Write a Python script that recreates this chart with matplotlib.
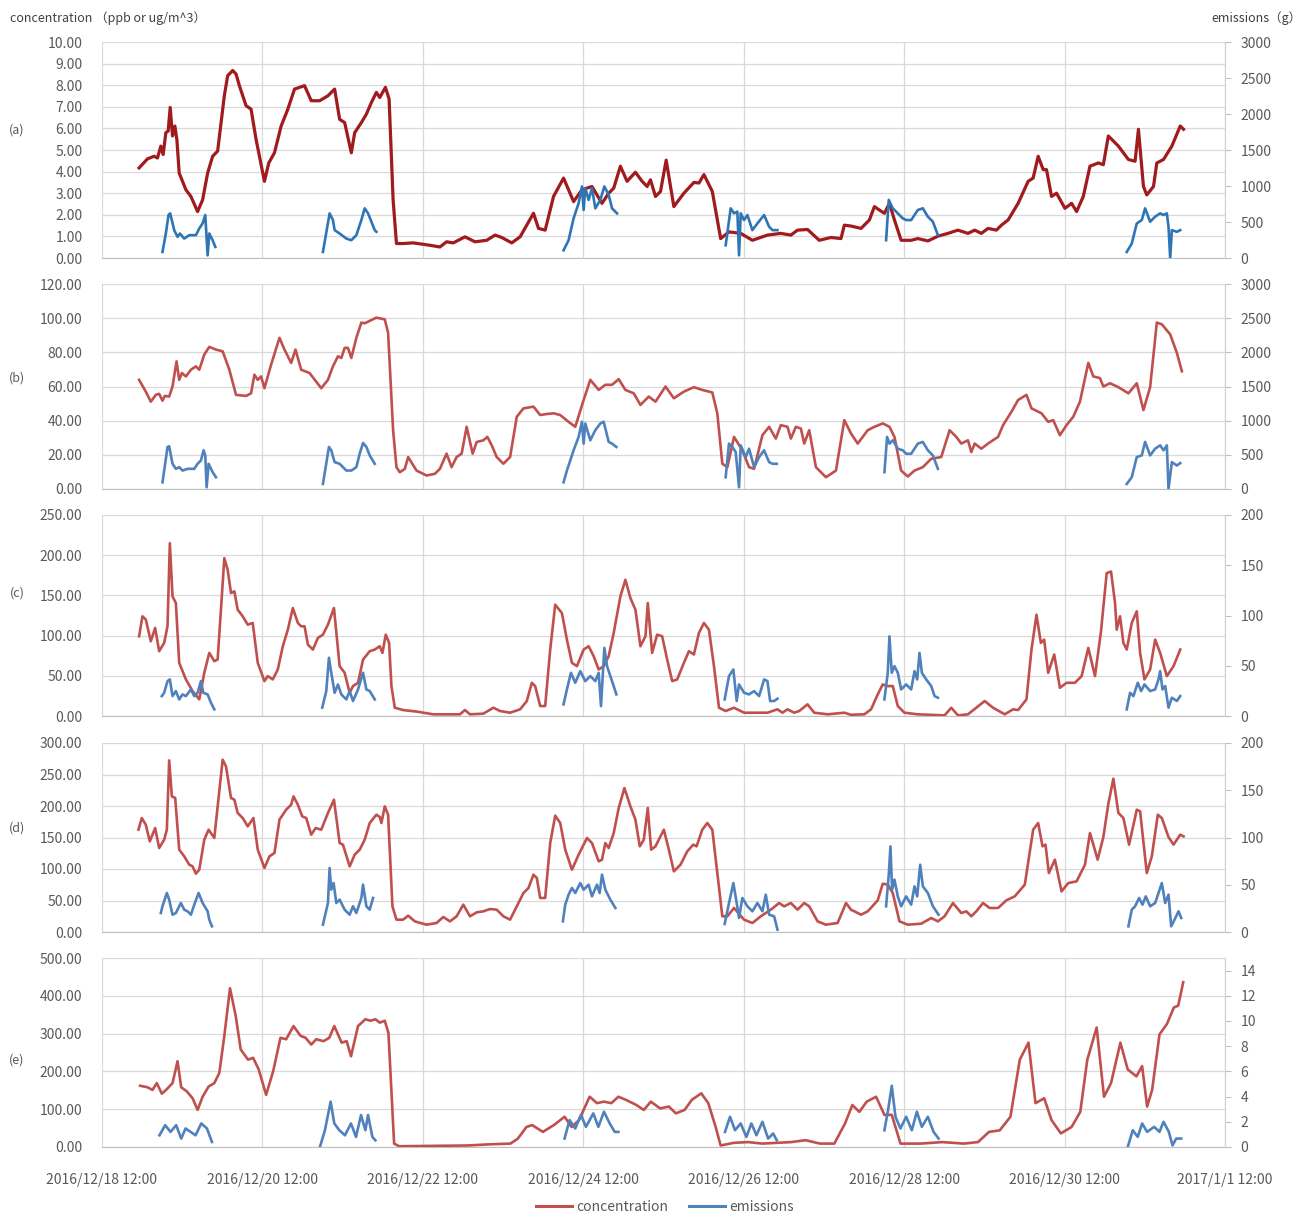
import numpy as np
import pandas as pd
import matplotlib
matplotlib.use('Agg')
import matplotlib.pyplot as plt
import matplotlib.lines as mlines
from matplotlib.ticker import FixedLocator, FuncFormatter

plt.rcParams['font.family'] = ['Noto Sans CJK SC', 'DejaVu Sans']

# time axis: hours after 2016/12/18 12:00, one gridline every two days
START = pd.Timestamp('2016-12-18 12:00')
X_END = 336
X_TICKS = list(range(0, X_END + 1, 48))

# ---------------- (a) ----------------
a_conc_h = [11.1, 13.6, 15.6, 16.6, 17.6, 18.3, 19.1, 19.8, 20.4, 21.1, 21.8, 22.4, 23.1, 25.1, 26.6, 28.6,
            30.1, 31.6, 33.1, 34.6, 36.6, 37.6, 39.1, 40.1, 41.1, 43.1, 44.6, 46.1, 48.6, 49.9, 51.6, 53.6,
            55.6, 57.6, 59.1, 60.6, 62.6, 65.1, 67.6, 69.6, 71.1, 72.6, 74.6, 75.6, 77.6, 79.1, 80.6, 82.1,
            83.1, 84.8, 85.9, 87.1, 88.1, 90.1, 93.1, 98.1, 101.1, 103.1, 105.1, 108.6, 111.6, 115.1, 117.6,
            119.6, 122.6, 125.1, 129.1, 130.6, 132.6, 135.1, 138.1, 141.1, 143.6, 146.6, 149.6, 151.6, 153.1,
            155.1, 157.1, 159.6, 161.6, 163.1, 164.1, 165.6, 167.1, 168.8, 171.1, 174.1, 177.1, 178.6, 180.1,
            182.6, 185.1, 187.6, 191.1, 194.6, 199.1, 203.1, 206.1, 208.1, 211.1, 214.6, 218.1, 221.1, 222.1,
            224.1, 227.1, 229.6, 231.1, 232.6, 234.1, 235.6, 237.1, 239.1, 242.1, 244.1, 247.1, 250.1, 253.1,
            256.1, 259.1, 261.1, 263.1, 265.1, 267.6, 269.1, 271.1, 274.1, 277.1, 278.6, 280.1, 281.6, 282.6,
            284.1, 285.6, 288.1, 290.1, 291.6, 293.6, 295.6, 298.1, 299.6, 301.1, 304.1, 307.1, 309.1, 310.1,
            311.6, 312.6, 314.6, 315.6, 317.6, 320.1, 322.6, 323.6]
a_conc_v = [4.17, 4.59, 4.71, 4.63, 5.18, 4.79, 5.8, 5.88, 6.97, 5.65, 6.11, 5.49, 3.93, 3.16, 2.85, 2.15,
            2.69, 3.93, 4.71, 4.95, 7.51, 8.44, 8.68, 8.52, 7.98, 7.05, 6.89, 5.49, 3.55, 4.40, 4.87, 6.11,
            6.89, 7.82, 7.90, 7.98, 7.28, 7.28, 7.51, 7.82, 6.42, 6.27, 4.87, 5.8, 6.27, 6.66, 7.2, 7.67,
            7.43, 7.90, 7.36, 2.69, 0.67, 0.67, 0.7, 0.59, 0.51, 0.75, 0.7, 0.98, 0.75, 0.82, 1.06,
            0.95, 0.7, 0.98, 2.07, 1.37, 1.29, 2.85, 3.7, 2.61, 3.16, 3.31, 2.53, 3.0, 3.23,
            4.25, 3.55, 3.97, 3.55, 3.31, 3.62, 2.85, 3.08, 4.53, 2.38, 3.0, 3.5, 3.47, 3.86,
            3.08, 0.9, 1.21, 1.14, 0.82, 1.06, 1.14, 1.06, 1.29, 1.32, 0.82, 0.95, 0.9, 1.52,
            1.48, 1.37, 1.76, 2.38, 2.22, 2.07, 2.53, 1.76, 0.82, 0.82, 0.9, 0.79, 1.01, 1.14,
            1.29, 1.14, 1.29, 1.14, 1.37, 1.29, 1.52, 1.76, 2.53, 3.55, 3.7, 4.71, 4.09, 4.09,
            2.85, 3.0, 2.3, 2.53, 2.15, 2.85, 4.25, 4.40, 4.32, 5.65, 5.18, 4.56, 4.48, 5.96,
            3.31, 2.92, 3.31, 4.40, 4.56, 5.18, 6.11, 5.96]
# None splits the separate emission episodes
a_emis_h = [18.1, 19.1, 19.9, 20.4, 21.6, 22.6, 23.3, 24.6, 26.1, 28.1, 29.1, 30.1, 30.9, 31.6, 32.1, 33.1, 33.9, None,
            66.1, 68.1, 69.1, 69.6, 71.1, 73.1, 74.6, 76.1, 77.6, 78.6, 79.6, 80.6, 81.6, 82.1, None,
            138.1, 139.6, 141.1, 142.6, 143.6, 144.1, 144.6, 145.6, 146.6, 147.6, 149.1, 150.3, 151.6, 152.6, 154.1, None,
            186.6, 188.1, 189.1, 190.1, 190.6, 191.1, 192.1, 193.1, 194.6, 196.1, 198.1, 199.6, 200.6, 202.1, None,
            234.6, 235.4, 236.6, 238.1, 239.6, 240.6, 242.1, 244.1, 245.6, 247.1, 248.6, 250.1, None,
            306.6, 308.1, 309.6, 311.1, 312.1, 313.6, 315.1, 316.6, 317.6, 318.6, 319.1, 319.6, 320.1, 321.6, 322.6]
a_emis_v = [84, 340, 597, 620, 387, 294, 340, 270, 317, 317, 410, 480, 597, 37, 340, 247, 154, None,
            84, 620, 527, 387, 340, 270, 247, 317, 527, 690, 620, 504, 387, 364, None,
            107, 247, 550, 760, 994, 667, 970, 807, 970, 690, 807, 994, 877, 690, 620, None,
            177, 690, 620, 644, 37, 620, 527, 597, 387, 480, 597, 434, 387, 387, None,
            247, 807, 690, 620, 550, 527, 527, 667, 690, 574, 504, 317, None,
            84, 200, 480, 527, 690, 504, 574, 620, 597, 620, 434, 0, 387, 364, 387]

# ---------------- (b) ----------------
b_conc_h = [11.1, 13.1, 14.6, 16.1, 17.1, 18.1, 18.8, 20.1, 21.1, 22.3, 23.1, 23.9, 25.1, 26.6, 28.1, 29.1,
            30.6, 32.1, 34.1, 36.1, 38.1, 40.1, 43.1, 44.6, 45.6, 46.6, 47.6, 48.6, 50.6, 53.1, 54.6, 56.6,
            57.9, 59.6, 62.1, 65.6, 67.6, 69.1, 70.6, 71.6, 72.6, 73.6, 74.6, 76.1, 77.6, 78.6, 80.1, 82.1,
            84.6, 85.6, 87.1, 88.1, 89.1, 90.6, 91.6, 94.1, 97.1, 99.6, 101.1, 103.1, 104.6, 106.1, 107.6,
            109.1, 110.9, 112.1, 114.1, 115.3, 116.6, 118.1, 120.1, 122.1, 124.1, 126.1, 129.1, 131.1, 133.1,
            135.1, 137.1, 139.6, 141.6, 144.1, 146.1, 148.6, 150.6, 152.6, 154.6, 156.6, 159.1, 161.1, 163.6,
            165.6, 168.6, 171.1, 174.1, 177.1, 179.6, 182.6, 184.1, 185.6, 187.1, 189.1, 191.6, 193.6, 195.1,
            197.6, 199.6, 201.6, 203.1, 205.1, 206.1, 207.6, 209.1, 210.1, 211.6, 213.6, 216.6, 219.6, 222.1,
            224.1, 226.1, 229.1, 231.1, 233.6, 235.6, 237.1, 239.1, 241.1, 243.1, 245.6, 248.1, 251.1, 253.6,
            255.6, 257.1, 259.1, 260.1, 261.1, 263.1, 265.1, 268.1, 269.6, 272.1, 274.1, 276.6, 278.1, 281.1,
            283.1, 284.6, 286.6, 288.6, 290.6, 292.6, 295.1, 296.6, 298.6, 299.6, 301.6, 304.1, 307.1, 309.6,
            311.6, 313.6, 315.6, 317.1, 319.6, 321.6, 323.1]
b_conc_v = [63.9, 57, 51.1, 55.1, 55.7, 51.7, 54.5, 54.1, 60, 74.7, 63.9, 67.9, 65.9, 69.8, 71.8, 69.8,
            78.7, 83.2, 81.6, 80.6, 69.8, 55.1, 54.5, 56, 66.9, 63.9, 65.9, 59, 72.8, 88.5, 81.6, 73.8,
            81.6, 69.8, 67.9, 59, 63.9, 71.8, 77.7, 76.7, 82.6, 82.6, 76.7, 88.5, 97.4, 97, 98.4, 100.3,
            99.3, 91.5, 34.4, 12.8, 9.8, 11.8, 18.7, 10.8, 7.9, 8.9, 11.8, 20.7, 12.8, 18.7, 20.7,
            36.4, 20.7, 27.5, 28.5, 30.5, 25.6, 18.7, 14.8, 18.7, 42.3, 47.2, 48.2, 43.3, 43.9,
            44.3, 43.3, 39.3, 36.4, 52.1, 63.9, 58, 61, 61, 64.3, 58, 56, 49.2, 54.1,
            51.1, 60, 53.1, 57, 59.6, 58, 56.5, 44.3, 14.8, 12.8, 30.5, 22.6, 12.8, 11.8,
            31.5, 36.4, 29.5, 37.4, 36.4, 29.5, 36.4, 35.4, 26.6, 34.4, 12.8, 6.9, 10.8, 40.3,
            32.5, 26.6, 34.4, 36.4, 38.4, 36.4, 30.5, 10.8, 7.3, 10.8, 12.8, 17.7, 18.7, 34.4,
            30.5, 26.6, 28.5, 21.6, 26.6, 23.6, 26.6, 30.5, 37.4, 45.2, 52.1, 55.1, 47.2, 44.3,
            39.3, 40.3, 31.5, 37.4, 42.3, 51.1, 73.8, 65.9, 64.9, 60, 61.9, 59.6, 56, 61.9,
            46.2, 59.6, 97.4, 96.4, 90.5, 79.7, 68.9]
b_emis_h = [18.1, 18.9, 19.6, 20.1, 21.1, 22.1, 23.1, 24.1, 25.6, 27.6, 28.6, 29.6, 30.4, 30.9, 31.3, 31.9, 33.1, 34.1, None,
            66.1, 67.9, 68.6, 69.6, 71.1, 73.1, 74.6, 76.1, 77.1, 78.1, 79.1, 80.1, 81.6, None,
            138.1, 139.1, 141.1, 142.6, 143.6, 144.1, 144.6, 146.1, 147.6, 149.1, 150.1, 151.6, 152.6, 153.9, None,
            186.6, 187.6, 188.6, 189.6, 190.6, 191.1, 192.6, 193.6, 195.1, 196.6, 198.1, 199.6, 200.6, 201.9, None,
            234.1, 234.9, 235.6, 236.6, 238.1, 239.6, 240.6, 242.1, 244.1, 245.6, 247.1, 248.6, 250.1, None,
            306.6, 308.1, 309.6, 311.1, 312.1, 313.6, 315.1, 316.6, 317.6, 318.6, 319.1, 320.1, 321.6, 322.6]
b_emis_v = [98, 369, 615, 625, 369, 295, 320, 270, 295, 295, 369, 418, 566, 492, 25, 369, 246, 172, None,
            74, 615, 566, 393, 369, 270, 270, 320, 516, 674, 615, 492, 369, None,
            98, 270, 566, 762, 984, 664, 959, 713, 861, 959, 984, 689, 664, 615, None,
            172, 664, 615, 541, 25, 639, 467, 590, 320, 467, 566, 393, 369, 369, None,
            246, 762, 664, 713, 590, 566, 516, 516, 664, 689, 566, 492, 295, None,
            74, 172, 467, 492, 689, 492, 590, 639, 566, 639, 0, 393, 344, 379]

# ---------------- (c) ----------------
c_conc_h = [11.1, 12.1, 13.1, 14.6, 15.9, 17.1, 18.6, 19.6, 20.3, 21.1, 22.1, 23.1, 25.1, 27.1, 29.1, 30.6,
            32.1, 33.6, 34.6, 36.6, 37.6, 38.6, 39.6, 40.6, 42.1, 43.6, 45.1, 46.6, 48.6, 49.6, 51.1, 52.6,
            54.1, 55.6, 57.1, 58.6, 59.6, 60.6, 61.6, 63.1, 64.6, 66.1, 67.6, 69.4, 71.1, 72.6, 74.1, 75.1,
            76.6, 78.1, 80.1, 81.6, 83.1, 83.9, 84.9, 85.9, 86.6, 87.6, 90.1, 94.1, 99.1, 107.1, 108.6, 110.1,
            114.1, 117.1, 119.1, 122.1, 125.1, 127.1, 128.6, 129.6, 131.1, 132.6, 134.1, 135.6, 137.6, 139.1,
            140.6, 142.1, 144.1, 145.6, 147.1, 148.6, 150.1, 151.6, 153.1, 155.1, 156.6, 158.1, 159.6, 161.1,
            162.6, 163.3, 164.6, 166.1, 167.6, 169.1, 170.6, 172.1, 174.1, 175.6, 177.1, 178.6, 180.1, 181.6,
            183.1, 184.6, 186.6, 189.1, 192.1, 199.1, 202.1, 203.6, 205.1, 207.1, 208.6, 211.1, 213.1, 217.1,
            222.1, 224.1, 228.1, 230.1, 232.1, 233.6, 235.1, 236.6, 238.1, 240.1, 244.1, 252.1, 254.1, 256.1,
            259.1, 261.6, 264.1, 266.6, 270.1, 272.6, 274.1, 276.6, 278.1, 279.6, 280.9, 281.9, 283.1, 284.9,
            286.6, 288.6, 291.1, 293.1, 295.1, 297.1, 298.9, 300.6, 301.9, 303.1, 303.6, 304.6, 305.6, 306.6,
            308.1, 309.6, 310.6, 311.9, 313.6, 315.1, 316.6, 318.6, 320.6, 322.6]
c_conc_v = [99.2, 124, 120, 93, 109.5, 80.6, 90.9, 111.6, 214.9, 148.8, 140.5, 66.1, 45.5, 31, 20.7, 53.7,
            78.5, 68.2, 70.2, 196.3, 181.8, 152.9, 155, 132.2, 124, 113.6, 115.7, 66.1, 43.4, 49.6, 45.5, 57.9,
            86.8, 107.4, 134.3, 115.7, 111.6, 111.6, 88.8, 82.6, 97.1, 101.2, 113.6, 134.3, 62, 53.7, 28.9, 37.2,
            41.3, 70.2, 80.6, 82.6, 86.8, 78.5, 101.2, 90.9, 37.2, 10.3, 7.4, 5.5, 2.1, 2.1, 7.4, 2.1,
            2.9, 10.3, 6.2, 4.1, 8.3, 18.6, 41.3, 37.2, 12.4, 12.4, 82.6, 138.4, 128.1, 95,
            66.1, 62, 82.6, 86.8, 74.4, 57.9, 62, 74.4, 103.3, 148.8, 169.4, 146.7, 132.2, 86.8,
            99.2, 140.5, 78.5, 101.2, 99.2, 70.2, 43.4, 45.5, 66.1, 80.6, 76.5, 103.3, 115.7, 107.4,
            62, 10.3, 6.2, 10.3, 4.1, 4.1, 8.3, 4.1, 8.3, 4.1, 6.2, 14.5, 4.1, 2.1,
            4.1, 1.5, 2.1, 8.3, 26.9, 39.3, 37.2, 37.2, 12.4, 4.1, 2.1, 0.8, 10.3, 0.8,
            2.1, 10.3, 18.6, 10.3, 2.1, 8.3, 7.4, 20.7, 82.6, 126, 90.9, 95, 53.7, 76.5,
            35.1, 41.3, 41.3, 49.6, 84.7, 49.6, 105.4, 177.7, 179.7, 140.5, 107.4, 124, 90.9, 82.6,
            115.7, 130.2, 78.5, 45.5, 57.9, 95, 78.5, 49.6, 62, 82.6]
c_emis_h = [17.9, 18.6, 19.6, 20.3, 21.1, 22.1, 23.1, 24.1, 25.1, 26.6, 27.6, 28.6, 29.6, 30.3, 31.6, 32.6, 33.6, None,
            65.9, 67.1, 67.9, 68.6, 69.6, 70.6, 71.6, 73.1, 74.1, 75.1, 76.6, 78.1, 79.1, 80.1, 81.6, None,
            138.1, 139.1, 140.3, 141.6, 143.1, 144.6, 146.1, 147.6, 148.6, 149.3, 150.3, 151.1, 152.6, 153.9, None,
            186.3, 187.6, 188.9, 189.9, 190.6, 192.1, 193.6, 195.1, 196.6, 198.1, 199.1, 199.9, 201.1, 202.1, None,
            234.1, 235.1, 235.6, 236.3, 237.1, 238.1, 239.1, 240.6, 242.1, 243.1, 243.9, 244.6, 245.3, 246.6,
            248.1, 249.1, 250.1, None,
            306.6, 307.6, 308.6, 309.9, 310.9, 311.9, 313.6, 315.1, 316.1, 316.6, 317.3, 318.1, 319.1, 320.1,
            321.6, 322.6]
c_emis_v = [19.8, 23.1, 34.7, 36.4, 19.8, 24.8, 16.5, 21.5, 19.8, 26.4, 19.8, 23.1, 34.7, 23.1, 21.5, 13.2, 6.6, None,
            8.3, 24.8, 57.9, 43, 23.1, 31.4, 21.5, 16.5, 24.8, 14.9, 26.4, 43, 26.4, 24.8, 16.5, None,
            11.6, 26.4, 43, 33.1, 44.6, 34.7, 39.7, 34.7, 43, 9.9, 67.8, 49.6, 34.7, 21.5, None,
            16.5, 39.7, 46.3, 14.9, 31.4, 23.1, 21.5, 24.8, 19.8, 36.4, 34.7, 14.9, 14.9, 17.2, None,
            16.5, 43, 79.3, 43, 49.6, 43, 26.4, 31.4, 26.4, 44.6, 36.4, 62.8, 43, 36.4,
            29.8, 19.8, 18.2, None,
            6.6, 23.1, 19.8, 33.1, 24.8, 31.4, 24.8, 26.4, 36.4, 44.6, 26.4, 29.8, 8.3, 18.2,
            14.9, 19.8]

# ---------------- (d) ----------------
d_conc_h = [10.9, 11.9, 13.1, 14.3, 15.9, 17.1, 18.6, 19.4, 20.1, 20.9, 21.9, 23.1, 24.6, 26.1, 27.1, 28.1,
            29.1, 30.6, 31.9, 33.6, 36.1, 37.1, 38.6, 39.6, 40.6, 42.1, 43.6, 45.3, 46.6, 48.6, 50.1, 51.6,
            53.1, 55.1, 56.6, 57.3, 58.6, 59.9, 61.1, 62.6, 63.9, 65.6, 67.6, 69.4, 71.1, 72.1, 74.1, 75.6,
            77.1, 78.6, 80.1, 82.1, 83.1, 83.6, 84.6, 85.6, 86.9, 88.1, 90.1, 91.6, 93.6, 97.1, 100.1, 102.1,
            104.1, 106.1, 108.1, 110.1, 112.1, 114.1, 116.1, 118.1, 120.1, 122.1, 124.1, 126.1, 127.6, 129.1,
            130.1, 131.1, 132.6, 134.1, 135.6, 137.1, 138.6, 140.6, 142.6, 145.1, 146.6, 148.6, 149.6, 150.6,
            151.6, 153.1, 154.6, 156.3, 158.1, 159.6, 160.9, 162.1, 163.3, 164.3, 165.6, 168.1, 169.6, 171.1,
            173.1, 175.1, 176.9, 177.9, 179.6, 181.1, 182.6, 184.1, 185.6, 187.1, 189.1, 192.1, 194.6, 197.1,
            200.1, 202.6, 204.1, 206.1, 208.1, 210.1, 211.6, 214.1, 216.6, 220.1, 222.6, 224.1, 227.1, 229.1,
            232.1, 233.6, 235.1, 236.6, 238.6, 241.1, 245.1, 248.1, 250.1, 252.1, 254.6, 257.1, 258.6, 260.1,
            261.6, 263.6, 265.6, 268.1, 270.6, 273.1, 276.1, 278.6, 280.1, 281.4, 282.3, 283.3, 285.1, 287.1,
            289.1, 291.6, 294.1, 295.6, 297.9, 299.6, 301.1, 302.6, 304.1, 305.6, 307.3, 309.6, 310.6, 312.6,
            314.1, 315.9, 317.1, 319.1, 320.6, 322.6, 323.6]
d_conc_v = [162.4, 180.9, 170.3, 143.9, 165, 133.3, 146.5, 162.4, 272.4, 215.3, 212.7, 130.7, 120.1, 106.9, 104.2, 92.6,
            98.9, 146.5, 162.4, 149.2, 273.5, 262.9, 212.7, 210, 188.9, 180.9, 167.7, 180.9, 130.7, 101.6, 120.1, 125.4,
            178.3, 194.1, 202.1, 215.3, 202.1, 183.6, 180.9, 154.5, 165, 162.4, 188.9, 210, 141.2, 138.6, 104.2, 122.7,
            130.7, 146.5, 173, 186.2, 182.5, 173, 199.4, 186.2, 40.7, 19.6, 19.6, 25.9, 16.9, 11.6, 14.3, 23.8,
            16.9, 24.9, 43.4, 24.9, 31.2, 32.8, 36.5, 35.4, 24.9, 19.6, 40.7, 61.9, 69.8, 91,
            85.7, 54, 54, 141.2, 184.6, 173, 130.7, 98.9, 122.7, 149.2, 141.2, 112.2, 114.8, 141.2,
            133.3, 157.1, 196.8, 228.5, 199.4, 178.3, 136, 146.5, 196.8, 130.7, 136, 162.4, 130.7, 96.3,
            106.9, 128, 138.6, 136, 162.4, 173, 162.4, 93.6, 24.9, 24.9, 38.1, 19.6, 14.3, 24.9,
            35.4, 46, 40.7, 46, 35.4, 46, 40.7, 16.9, 11.6, 14.3, 46, 35.4, 27.5, 32.8,
            50.3, 76.7, 75.1, 61.9, 16.9, 11.6, 13.2, 22.2, 16.9, 24.9, 46, 30.1, 32.8, 24.9,
            32.8, 46, 38.1, 38.1, 50.3, 56.6, 75.1, 162.4, 173, 136, 138.6, 93.6, 114.8, 64.5,
            77.7, 80.4, 106.9, 157.1, 114.8, 150.7, 203.7, 243.3, 188.9, 180.9, 138.6, 194.1, 191.5, 93.6,
            120.1, 186.2, 180.9, 150.7, 138.6, 154.5, 151.8]
d_emis_h = [17.6, 18.1, 19.4, 20.1, 21.1, 22.1, 23.6, 24.6, 25.6, 26.6, 27.6, 28.9, 30.1, 31.6, 32.1, 32.9, None,
            66.1, 67.6, 68.1, 68.6, 69.3, 70.1, 71.1, 72.6, 74.1, 75.1, 76.1, 77.6, 78.1, 79.1, 80.1, 81.1, None,
            137.9, 138.6, 139.6, 140.6, 141.6, 143.1, 144.1, 145.6, 146.6, 148.1, 148.9, 149.6, 150.6, 152.1,
            153.6, None,
            186.3, 187.6, 188.9, 189.9, 190.6, 191.6, 193.1, 194.6, 196.1, 197.6, 198.6, 199.6, 201.1, 202.1, None,
            234.6, 235.4, 235.9, 236.4, 237.1, 238.1, 239.1, 240.6, 242.1, 243.1, 243.9, 244.8, 245.6, 247.1,
            248.6, 250.3, None,
            307.1, 308.1, 309.1, 310.3, 311.3, 312.3, 313.6, 315.1, 317.1, 318.1, 319.1, 319.9, 320.9, 322.1,
            322.9]
d_emis_v = [20.1, 27.2, 41.3, 34.2, 18.3, 20.1, 30.7, 23.6, 21.9, 18.3, 28.9, 41.3, 30.7, 21.9, 13, 6, None,
            7.8, 30.7, 67.7, 44.8, 51.8, 30.7, 34.2, 23.6, 18.3, 27.2, 20.1, 36, 50.1, 27.2, 23.6, 36, None,
            11.3, 28.9, 39.5, 46.6, 41.3, 51.8, 44.8, 50.1, 37.7, 50.1, 41.3, 60.7, 44.8, 34.2,
            25.4, None,
            8.5, 30.7, 51.8, 30.7, 14.8, 36, 27.2, 21.9, 30.7, 21.9, 39.5, 18.3, 16.6, 2.5, None,
            27.2, 60.7, 90.6, 44.8, 55.4, 37.7, 27.2, 37.7, 28.9, 48.3, 37.7, 71.2, 48.3, 41.3,
            27.2, 18.3, None,
            6, 23.6, 27.2, 36, 28.9, 37.7, 27.2, 30.7, 51.8, 30.7, 39.5, 6, 13, 21.9,
            14.8]

# ---------------- (e) ----------------
e_conc_h = [11.4, 13.6, 15.1, 16.4, 17.9, 19.4, 21.1, 22.6, 23.7, 25.4, 27.1, 28.6, 30.1, 31.9, 33.6, 35.1,
            36.6, 38.3, 40.0, 41.5, 43.7, 45.2, 46.9, 49.1, 51.2, 53.4, 55.1, 57.3, 59.4, 60.9, 62.6, 64.1,
            66.3, 68.0, 69.5, 71.7, 73.2, 74.5, 76.6, 78.8, 80.3, 81.8, 83.1, 84.6, 85.7, 87.4, 88.9, 109.3,
            115.8, 122.2, 124.4, 127.0, 128.7, 131.9, 135.2, 138.4, 140.5, 142.7, 145.9, 148.1, 150.2, 152.4,
            154.5, 156.7, 159.9, 162.1, 164.2, 167.0, 169.6, 171.7, 174.3, 176.5, 179.3, 181.4, 183.6, 185.1,
            189.0, 193.3, 197.6, 201.9, 206.2, 210.5, 214.8, 219.1, 222.3, 224.5, 226.6, 228.8, 231.6, 234.1,
            236.3, 238.9, 244.9, 251.4, 257.8, 262.1, 265.4, 268.6, 271.8, 274.6, 277.2, 279.3, 281.9, 284.1,
            286.9, 290.1, 292.7, 294.8, 297.6, 299.8, 301.9, 304.7, 306.9, 309.5, 311.2, 312.7, 314.2, 316.4,
            318.6, 320.7, 322.0, 323.5]
e_conc_v = [162, 158, 151, 169, 141, 153, 169, 227, 158, 147, 129, 98, 133, 160, 169, 196,
            294, 420, 347, 258, 231, 236, 205, 138, 200, 289, 285, 320, 294, 289, 271, 285,
            280, 289, 320, 276, 280, 240, 320, 338, 334, 338, 329, 334, 302, 9, 2, 4,
            7, 9, 22, 53, 58, 40, 58, 80, 53, 71, 133, 116, 120, 116,
            133, 125, 111, 98, 120, 102, 107, 89, 98, 125, 142, 116, 53, 4,
            11, 13, 9, 11, 13, 18, 9, 9, 62, 111, 93, 120, 133, 85,
            85, 9, 9, 13, 9, 13, 40, 44, 80, 231, 276, 116, 129, 71,
            36, 53, 93, 231, 316, 133, 169, 276, 205, 187, 214, 107, 151, 298,
            325, 369, 374, 436]
e_emis_h = [17.2, 18.9, 20.5, 22.2, 23.7, 25.0, 26.5, 28.0, 29.7, 31.4, 32.9, None,
            65.2, 66.7, 68.4, 69.5, 71.0, 72.7, 74.5, 76.0, 77.5, 78.8, 79.6, 80.9, 81.8, None,
            138.4, 139.9, 141.6, 143.3, 144.8, 147.0, 148.5, 150.2, 151.9, 153.4, 154.5, None,
            186.4, 187.9, 189.4, 191.1, 192.8, 194.3, 195.8, 197.6, 199.3, 200.8, 201.9, None,
            234.1, 235.2, 236.3, 237.4, 238.9, 240.6, 242.3, 243.8, 245.3, 247.1, 248.8, 250.3, None,
            306.9, 308.4, 309.9, 311.2, 312.7, 314.8, 316.4, 317.6, 319.2, 320.3, 321.4, 322.9]
e_emis_v = [0.93, 1.73, 1.2, 1.73, 0.67, 1.47, 1.2, 0.93, 1.87, 1.47, 0.4, None,
            0.0, 1.33, 3.6, 1.87, 1.33, 0.93, 1.87, 0.8, 2.54, 1.33, 2.54, 0.8, 0.53, None,
            0.67, 2.14, 1.47, 2.54, 1.6, 2.67, 1.6, 2.8, 1.87, 1.2, 1.2, None,
            1.2, 2.4, 1.33, 1.87, 0.8, 1.87, 0.93, 2.0, 0.67, 1.07, 0.53, None,
            1.33, 2.94, 4.86, 2.4, 1.47, 2.4, 1.33, 2.8, 1.6, 2.4, 1.2, 0.67, None,
            0.0, 1.33, 0.8, 1.87, 1.2, 1.6, 1.2, 2.0, 1.2, 0.13, 0.67, 0.67]

# panel settings: label, left max, left step, right max, right step
PANELS = [
    ('(a)', a_conc_h, a_conc_v, a_emis_h, a_emis_v, 10, 1, 3000, 500),
    ('(b)', b_conc_h, b_conc_v, b_emis_h, b_emis_v, 120, 20, 3000, 500),
    ('(c)', c_conc_h, c_conc_v, c_emis_h, c_emis_v, 250, 50, 200, 50),
    ('(d)', d_conc_h, d_conc_v, d_emis_h, d_emis_v, 300, 50, 200, 50),
    ('(e)', e_conc_h, e_conc_v, e_emis_h, e_emis_v, 500, 100, 15, 2),
]

# axes boxes in figure pixels (top, bottom) for a 1312x1214 canvas, plus panel-label heights
W, H = 1312, 1214
X0, X1 = 102, 1225
BOXES = [(42, 258), (284, 489), (515, 716), (743, 932), (958, 1147)]
LABEL_Y = [130, 378, 593, 828, 1060]

TEXT_C = '#595959'
GRID_C = '#d9d9d9'
RED = '#c0504d'
RED_DARK = '#a01a1e'
BLUE = '#4f81bd'
BLUE_A = '#2e75b6'


def fmt_date(h, pos=None):
    d = START + pd.Timedelta(hours=h)
    return f'{d.year}/{d.month}/{d.day} {d:%H:%M}'


fig = plt.figure(figsize=(W / 100, H / 100), dpi=100)

for i, (label, ch, cv, eh, ev, lmax, lstep, rmax, rstep) in enumerate(PANELS):
    top, bot = BOXES[i]
    ax = fig.add_axes([X0 / W, 1 - bot / H, (X1 - X0) / W, (bot - top) / H])
    ax2 = ax.twinx()

    conc_color = RED_DARK if i == 0 else RED
    emis_color = BLUE_A if i == 0 else BLUE
    ax.plot(ch, cv, color=conc_color, lw=2.3 if i == 0 else 1.9, solid_joinstyle='round', zorder=3)
    ax2.plot(np.array(eh, dtype=float), np.array(ev, dtype=float), color=emis_color, lw=1.9,
             solid_joinstyle='round', zorder=3)

    ax.set_xlim(0, X_END)
    ax.set_ylim(0, lmax)
    ax2.set_ylim(0, rmax)
    ax.yaxis.set_major_locator(FixedLocator(np.arange(0, lmax + lstep / 2, lstep)))
    ax.yaxis.set_major_formatter(FuncFormatter(lambda v, p: f'{v:.2f}'))
    ax2.yaxis.set_major_locator(FixedLocator(np.arange(0, rmax + 0.01, rstep)))
    ax2.yaxis.set_major_formatter(FuncFormatter(lambda v, p: f'{v:.0f}'))
    ax.xaxis.set_major_locator(FixedLocator(X_TICKS))

    ax.grid(True, color=GRID_C, lw=0.9, zorder=0)
    ax.set_axisbelow(True)

    for s in ['top', 'left', 'right']:
        ax.spines[s].set_visible(False)
    ax.spines['bottom'].set_color('#bfbfbf')
    for s in ['top', 'left', 'bottom']:
        ax2.spines[s].set_visible(False)
    ax2.spines['right'].set_color('#d0d0d0')

    ax.tick_params(axis='y', length=0, pad=14, labelsize=10, labelcolor=TEXT_C)
    ax2.tick_params(axis='y', length=4, width=0.8, color='#bfbfbf', pad=7, labelsize=10, labelcolor=TEXT_C)
    if i == len(PANELS) - 1:
        ax.xaxis.set_major_formatter(FuncFormatter(fmt_date))
        ax.tick_params(axis='x', length=0, pad=19, labelsize=10, labelcolor=TEXT_C)
    else:
        ax.tick_params(axis='x', length=0, labelbottom=False)

    fig.text(17 / W, 1 - LABEL_Y[i] / H, label, fontsize=9, color=TEXT_C, ha='center', va='center')

fig.text(10 / W, 1 - 18 / H, 'concentration （ppb or ug/m^3）', fontsize=9, color='#404040',
         ha='left', va='center')
fig.text(1302 / W, 1 - 18 / H, 'emissions（g）', fontsize=9, color='#404040', ha='right', va='center')

handles = [mlines.Line2D([], [], color=RED, lw=2.2, label='concentration'),
           mlines.Line2D([], [], color=BLUE, lw=2.2, label='emissions')]
fig.legend(handles=handles, loc='center', bbox_to_anchor=(665 / W, 1 - 1207 / H), ncol=2, frameon=False,
           fontsize=10, labelcolor=TEXT_C, handlelength=2.6, handletextpad=0.3, columnspacing=1.5)

fig.savefig('out.png', dpi=100, facecolor='white')
